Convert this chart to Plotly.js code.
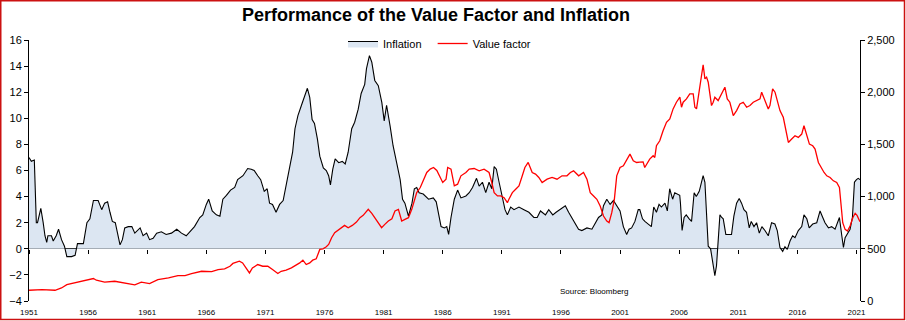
<!DOCTYPE html>
<html>
<head>
<meta charset="utf-8">
<script src="https://cdn.plot.ly/plotly-3.0.1.min.js"></script>
<style>html,body{margin:0;padding:0;background:#fff;}#chart{width:906px;height:321px;}</style>
</head>
<body>
<div id="chart"></div>
<script>
// ---- data (decimal-year positions) ----
var inflDates = [1951.0,1951.2,1951.45,1951.62,1951.72,1951.8,1952.0,1952.2,1952.35,1952.5,1952.6,1952.9,1953.05,1953.3,1953.5,1953.75,1954.0,1954.2,1954.6,1954.9,1955.1,1955.6,1955.9,1956.15,1956.45,1956.85,1957.15,1957.4,1957.65,1957.85,1958.05,1958.3,1958.5,1958.7,1958.9,1959.1,1959.4,1959.7,1959.95,1960.4,1960.65,1960.95,1961.2,1961.5,1961.8,1962.2,1962.6,1963.05,1963.5,1963.9,1964.3,1964.75,1965.0,1965.45,1965.7,1966.0,1966.2,1966.5,1966.85,1967.15,1967.4,1967.7,1968.05,
1968.4,1968.65,1969.1,1969.5,1969.8,1970.05,1970.35,1970.6,1970.9,1971.15,1971.35,1971.6,1971.9,1972.2,1972.5,1972.7,1972.9,1973.1,1973.3,1973.5,1973.75,1974.05,1974.3,1974.55,1974.75,1974.95,1975.15,1975.4,1975.6,1975.9,1976.15,1976.35,1976.5,1976.7,1976.9,1977.2,1977.5,1977.75,1978.0,1978.3,1978.55,1978.85,1979.1,1979.4,1979.55,1979.8,1980.0,1980.25,1980.55,1980.85,1981.05,1981.25,1981.55,1981.8,1982.1,1982.4,1982.6,1982.8,1983.1,1983.4,1983.6,1983.8,1984.0,1984.35,1984.8,1985.2,1985.45,
1985.86,1986.14,1986.34,1986.5,1986.7,1986.98,1987.26,1987.54,1987.96,1988.24,1988.52,1988.86,1989.08,1989.36,1989.64,1989.92,1990.15,1990.35,1990.54,1990.77,1991.05,1991.27,1991.47,1991.75,1992.03,1992.45,1992.87,1993.29,1993.71,1993.99,1994.27,1994.69,1994.97,1995.31,1995.59,1995.95,1996.37,1996.65,1996.93,1997.21,1997.49,1997.77,1998.2,1998.62,1998.9,1999.18,1999.46,1999.6,1999.88,2000.16,2000.44,2000.72,2001.0,2001.28,2001.56,2001.76,2001.98,2002.26,2002.54,
2002.67,2002.9,2003.1,2003.37,2003.65,2003.85,2004.08,2004.3,2004.5,2004.8,2005.0,2005.2,2005.45,2005.63,2005.83,2006.05,2006.11,2006.25,2006.42,2006.6,2006.85,2007.05,2007.27,2007.45,2007.7,2007.9,2008.03,2008.18,2008.32,2008.46,2008.66,2008.82,2009.02,2009.16,2009.3,2009.45,2009.6,2009.73,2009.95,2010.43,2010.63,2010.86,2011.08,2011.28,2011.48,2011.7,2011.93,2012.1,2012.33,2012.55,2012.78,2013.0,2013.26,2013.54,2013.82,2014.1,2014.3,2014.53,2014.76,2014.95,2015.15,2015.38,2015.6,2015.8,2016.08,2016.37,2016.56,2016.8,2017.0,2017.3,2017.64,2017.92,2018.15,2018.34,2018.63,2018.9,2019.19,2019.56,2019.76,2019.9,2020.04,2020.24,2020.46,2020.66,2020.83,2021.0,2021.15,2021.3];
var inflation = [7.0,6.7,6.8,2.0,2.0,2.4,3.1,2.0,1.0,0.5,1.0,1.0,0.6,1.0,1.5,0.7,0.2,-0.6,-0.6,-0.5,0.4,0.4,2.0,2.3,3.7,3.7,3.0,3.5,3.6,2.8,2.1,2.0,1.0,0.3,0.7,1.6,1.7,1.7,1.2,1.6,1.0,1.2,0.7,0.8,1.2,1.3,1.1,1.2,1.5,1.2,1.0,1.5,1.7,2.4,2.6,3.4,3.8,2.9,2.6,2.5,3.8,4.1,4.5,
4.7,5.3,5.6,6.15,6.1,6.0,5.6,5.3,4.4,4.6,3.5,3.4,2.8,3.4,3.7,4.6,5.6,6.4,7.4,9.2,10.2,11.0,11.7,12.3,11.6,9.9,9.6,8.4,7.1,6.2,6.0,5.6,4.9,6.1,6.9,6.6,6.7,6.5,7.4,9.2,9.7,10.7,11.9,12.6,13.8,14.8,14.3,12.9,12.5,11.2,9.8,11.0,9.4,7.9,6.6,5.3,3.8,3.5,2.5,3.5,4.6,4.7,4.3,4.2,3.8,3.9,3.6,
1.7,1.6,1.7,1.1,2.4,3.8,4.5,3.9,4.05,4.3,4.7,5.4,4.8,5.1,4.3,5.1,4.6,6.3,6.1,5.1,4.05,3.0,2.6,3.2,3.0,3.2,3.0,2.8,2.4,2.4,2.9,2.6,3.0,2.6,2.8,3.0,3.3,2.8,2.4,2.0,1.5,1.4,1.6,1.5,1.9,2.4,2.6,3.3,3.8,3.4,3.7,3.3,2.9,1.7,1.1,1.5,1.6,2.1,3.0,
3.0,2.3,2.1,1.9,1.7,3.2,2.8,3.4,3.2,3.5,2.9,4.6,3.8,4.3,4.2,4.1,3.5,1.4,2.4,2.6,2.3,2.1,4.3,4.0,4.4,5.1,5.6,5.1,3.0,0.2,0.0,-1.1,-2.05,-1.3,0.5,2.6,2.4,2.3,1.1,1.1,2.5,3.5,3.85,3.5,3.0,2.8,1.6,2.1,1.7,2.0,1.2,1.7,1.4,1.0,2.0,1.9,1.4,0.1,-0.2,0.15,-0.05,0.6,1.0,0.85,1.4,1.7,2.6,2.3,1.6,1.9,2.0,2.9,2.4,2.0,1.6,1.7,1.5,2.4,1.0,0.1,0.85,1.2,1.5,2.4,5.1,5.3,5.4,5.3];

var valueDates = [1951.0,1952.1,1953.2,1953.75,1954.2,1954.9,1955.75,1956.45,1956.7,1957.4,1958.25,1959.1,1959.95,1960.5,1961.2,1961.9,1962.8,1963.6,1964.2,1964.75,1965.6,1966.45,1967.0,1967.55,1968.0,1968.25,1968.8,1969.07,1969.35,1969.65,1969.9,1970.35,1970.77,1971.2,1971.6,1972.05,1972.33,1972.75,1973.2,1973.6,1973.9,1974.17,1974.45,1974.75,1975.0,1975.3,1975.6,1975.87,1976.15,1976.35,1976.6,1976.86,1977.15,1977.43,1977.7,1978.0,1978.35,1978.7,1979.0,1979.27,1979.7,1980.0,1980.25,1980.55,1980.83,1981.1,1981.4,1981.7,1981.96,1982.25,1982.53,1982.8,1983.1,1983.38,1983.6,1983.8,1984.1,1984.37,1984.65,1984.94,1985.22,1985.5,1985.72,
1986.0,1986.28,1986.42,1986.7,1986.98,1987.26,1987.54,1987.96,1988.24,1988.66,1989.08,1989.5,1989.92,1990.15,1990.35,1990.63,1990.9,1991.19,1991.47,1991.6,1991.89,1992.17,1992.45,1992.73,1992.95,1993.23,1993.57,1993.85,1994.13,1994.41,1994.83,1995.25,1995.67,1996.09,1996.51,1996.8,1997.07,1997.5,1997.91,1998.2,1998.48,1998.76,1999.04,1999.32,1999.6,1999.88,2000.07,2000.3,2000.52,2000.72,2001.0,2001.28,2001.56,2001.84,2002.12,2002.4,2002.67,2002.95,
2003.09,2003.23,2003.51,2003.8,2003.94,2004.08,2004.36,2004.64,2004.93,2005.21,2005.49,2005.77,2006.06,2006.2,2006.34,2006.62,2006.9,2007.19,2007.33,2007.47,2007.69,2007.89,2008.03,2008.18,2008.32,2008.46,2008.6,2008.74,2008.88,2009.02,2009.3,2009.59,2009.87,2010.07,2010.29,2010.58,2010.86,2011.14,2011.42,2011.71,2011.99,2012.27,2012.55,2012.84,2012.98,2013.26,2013.54,2013.68,2013.91,2014.11,2014.31,2014.53,2014.81,2015.04,2015.24,2015.52,2015.8,2016.08,2016.37,2016.56,2016.79,2017.02,2017.3,2017.5,2017.78,2018.06,2018.26,2018.49,2018.77,2019.05,2019.33,2019.56,2019.7,2019.84,2020.04,2020.24,2020.46,2020.69,2020.89,2021.05,2021.3];
var valueFactor = [103,109,103,125,157,173,199,215,199,180,189,173,155,180,167,205,221,244,244,263,285,282,301,308,333,360,381,365,317,269,317,349,333,333,301,263,285,295,317,340,365,391,349,365,391,404,494,500,519,542,606,654,676,702,724,702,724,756,798,820,878,840,798,750,702,734,766,788,862,878,766,782,798,878,974,1038,1087,1167,1231,1263,1279,1250,1199,
1135,1167,1279,1263,1103,1119,1199,1231,1263,1269,1247,1263,1231,1135,1038,1006,1006,990,942,974,1038,1070,1103,1199,1279,1327,1231,1215,1183,1135,1167,1183,1167,1199,1199,1231,1247,1199,1231,1167,1038,1006,974,910,814,766,750,846,974,1199,1279,1295,1359,1407,1343,1327,1330,1333,
1279,1311,1359,1391,1375,1487,1535,1631,1711,1744,1840,1904,1952,1856,1904,1936,1984,1984,1856,1840,2016,2144,2263,2128,2144,2096,1984,1872,1904,1952,1920,1984,2048,1936,1904,1776,1824,1888,1904,1856,1872,1904,1920,1936,2000,1920,1840,1872,2032,2000,1904,1824,1760,1615,1519,1551,1583,1567,1599,1679,1583,1503,1487,1455,1327,1263,1231,1199,1183,1151,1135,1087,878,750,686,670,718,798,840,820,760];

var tickYears = [1951,1956,1961,1966,1971,1976,1981,1986,1991,1996,2001,2006,2011,2016,2021];
var tickLabels = ['1951','1956','1961','1966','1971','1976','1981','1986','1991','1996','2001','2006','2011','2016','2021'];
var leftTicks = [-4,-2,0,2,4,6,8,10,12,14,16];
var rightTicks = [0,500,1000,1500,2000,2500];

// ---- geometry ----
var W = 906, H = 321, ML = 29, MR = 46, MT = 40, MB = 20;
var PW = W - ML - MR, PH = H - MT - MB;
function px2x(p){ return (p - ML) / PW; }
function py2y(p){ return (H - MB - p) / PH; }
var XR = [1951, 2021.3];
var FONT = 'Liberation Sans, Arial, sans-serif';

var traces = [
  {
    type: 'scatter', mode: 'lines', name: 'Inflation', showlegend: false,
    x: inflDates, y: inflation, xaxis: 'x', yaxis: 'y',
    fill: 'tozeroy', fillcolor: '#dce6f2',
    line: {color: '#000000', width: 1.1},
    hoverinfo: 'skip'
  },
  {
    // legend entry for the inflation area (boxed swatch)
    type: 'scatter', mode: 'lines', name: 'Inflation\u00a0\u00a0',
    x: [null], y: [null], xaxis: 'x', yaxis: 'y',
    fill: 'toself', fillcolor: '#dce6f2',
    line: {color: '#000000', width: 1},
    hoverinfo: 'skip'
  },
  {
    type: 'scatter', mode: 'lines', name: 'Value factor',
    x: valueDates, y: valueFactor, xaxis: 'x2', yaxis: 'y2',
    line: {color: '#ff0000', width: 1.3},
    hoverinfo: 'skip'
  }
];

var layout = {
  width: W, height: H,
  margin: {l: ML, r: MR, t: MT, b: MB, pad: 0},
  paper_bgcolor: '#ffffff', plot_bgcolor: '#ffffff',
  font: {family: FONT, color: '#000000', size: 11},
  showlegend: true,
  title: {
    text: '<b>Performance of the Value Factor and Inflation</b>',
    font: {family: FONT, size: 18, color: '#000000'},
    xref: 'container', yref: 'container',
    x: 436 / W, xanchor: 'center',
    y: 1 - 15 / H, yanchor: 'middle'
  },
  legend: {
    orientation: 'h', x: px2x(343), xanchor: 'left', y: py2y(29), yanchor: 'top',
    font: {family: FONT, size: 11, color: '#000000'},
    bgcolor: 'rgba(0,0,0,0)', itemwidth: 30, traceorder: 'normal'
  },
  xaxis: {
    range: XR, anchor: 'free', position: 0.2,
    tickmode: 'array', tickvals: tickYears, showticklabels: false,
    ticks: 'outside', ticklen: 4, tickwidth: 1, tickcolor: '#000000',
    showline: false, showgrid: false, zeroline: false, fixedrange: true
  },
  xaxis2: {
    range: XR, overlaying: 'x', anchor: 'y', side: 'bottom',
    tickmode: 'array', tickvals: tickYears, ticktext: tickLabels,
    ticks: 'outside', ticklen: 3, tickcolor: 'rgba(0,0,0,0)',
    tickfont: {family: FONT, size: 8, color: '#000000'},
    showline: false, showgrid: false, zeroline: false, fixedrange: true
  },
  yaxis: {
    range: [-4, 16], tickmode: 'array', tickvals: leftTicks,
    ticks: 'outside', ticklen: 4, tickcolor: '#000000',
    showline: true, linecolor: '#000000', linewidth: 1,
    showgrid: false, zeroline: true, zerolinecolor: '#000000', zerolinewidth: 1,
    tickfont: {family: FONT, size: 11, color: '#000000'}, fixedrange: true
  },
  yaxis2: {
    range: [0, 2500], overlaying: 'y', side: 'right', anchor: 'x',
    tickmode: 'array', tickvals: rightTicks, tickformat: ',',
    ticks: 'outside', ticklen: 4, tickcolor: '#000000',
    showline: true, linecolor: '#000000', linewidth: 1,
    showgrid: false, zeroline: false,
    tickfont: {family: FONT, size: 11, color: '#000000'}, fixedrange: true
  },
  annotations: [{
    text: 'Source: Bloomberg', xref: 'paper', yref: 'paper',
    x: px2x(594), y: py2y(291), xanchor: 'center', yanchor: 'middle',
    showarrow: false, font: {family: FONT, size: 8, color: '#000000'}
  }],
  shapes: [{
    type: 'rect', xref: 'paper', yref: 'paper',
    x0: px2x(0.75), x1: px2x(904.5), y0: py2y(319.5), y1: py2y(0.75),
    line: {color: '#cc1111', width: 1.5}, fillcolor: 'rgba(0,0,0,0)', layer: 'above'
  }]
};

Plotly.newPlot('chart', traces, layout, {displayModeBar: false, staticPlot: true});
</script>
</body>
</html>
